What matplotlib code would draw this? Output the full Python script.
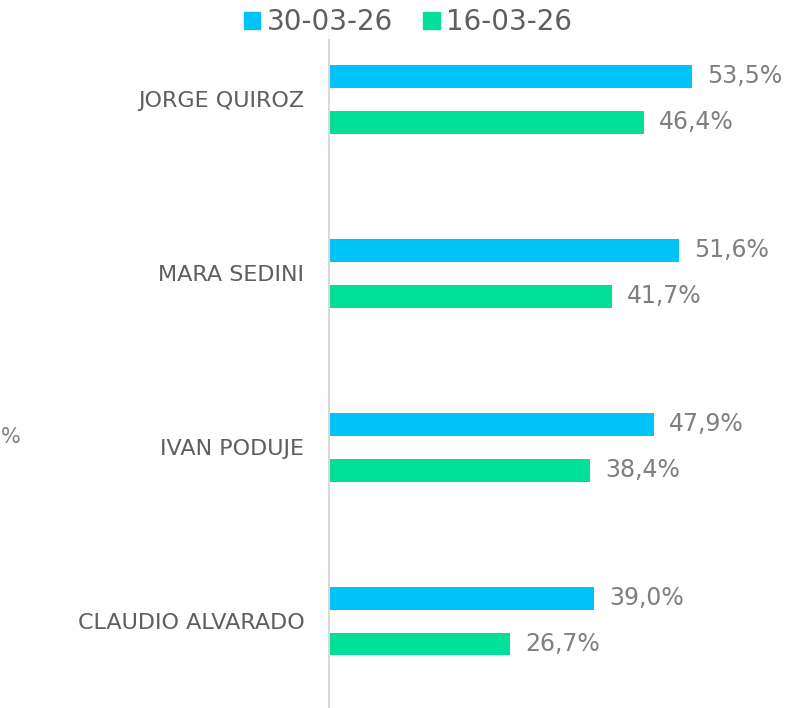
import matplotlib.pyplot as plt
from matplotlib.patches import Patch
import numpy as np

# data
candidates = ["JORGE QUIROZ", "MARA SEDINI", "IVAN PODUJE", "CLAUDIO ALVARADO"]
series_names = ["30-03-26", "16-03-26"]
vals_30_03 = [53.5, 51.6, 47.9, 39.0]
vals_16_03 = [46.4, 41.7, 38.4, 26.7]

BLUE = "#00C3F8"
GREEN = "#00E098"
TXT = "#5F5F5F"
VAL = "#7F7F7F"

W, H = 789, 708
fig = plt.figure(figsize=(W / 100, H / 100), dpi=100)
left = 329.3 / W
top = 12.4 / H
ax = fig.add_axes([left, 0.0, 1 - left, 1 - top])

y = np.arange(len(candidates))
bh = 0.132
ax.barh(y - bh, vals_30_03, height=bh, color=BLUE)
ax.barh(y + bh, vals_16_03, height=bh, color=GREEN)

for i in range(len(candidates)):
    ax.annotate(f"{vals_30_03[i]:.1f}%".replace(".", ","), (vals_30_03[i], y[i] - bh),
                xytext=(11, 0), textcoords="offset points", va="center", ha="left",
                fontsize=17, color=VAL)
    ax.annotate(f"{vals_16_03[i]:.1f}%".replace(".", ","), (vals_16_03[i], y[i] + bh),
                xytext=(11, 0), textcoords="offset points", va="center", ha="left",
                fontsize=17, color=VAL)

ax.set_xlim(0, (W - 329.3) / 6.78)
ax.set_ylim(3.5, -0.5)
ax.set_yticks(y)
ax.set_yticklabels(candidates, fontsize=16, color=TXT)
ax.tick_params(axis="y", length=0, pad=18)
ax.set_xticks([])
for s in ["top", "right", "bottom"]:
    ax.spines[s].set_visible(False)
ax.spines["left"].set_color("#D9D9D9")
ax.spines["left"].set_linewidth(1.5)

handles = [Patch(color=BLUE), Patch(color=GREEN)]
leg = fig.legend(handles, series_names, loc="center", bbox_to_anchor=(408 / W, 1 - 22 / H),
                 ncol=2, frameon=True, fontsize=20, handlelength=0.58, handleheight=0.58,
                 handletextpad=0.25, columnspacing=1.1, borderpad=0.1, borderaxespad=0)
leg.get_frame().set_edgecolor("none")
leg.get_frame().set_facecolor("white")
for t in leg.get_texts():
    t.set_color(TXT)

# stray label at the left edge
fig.text(1 / W, 1 - 437 / H, "%", fontsize=15, color=VAL, va="center", ha="left")

fig.savefig("out.png", dpi=100)
